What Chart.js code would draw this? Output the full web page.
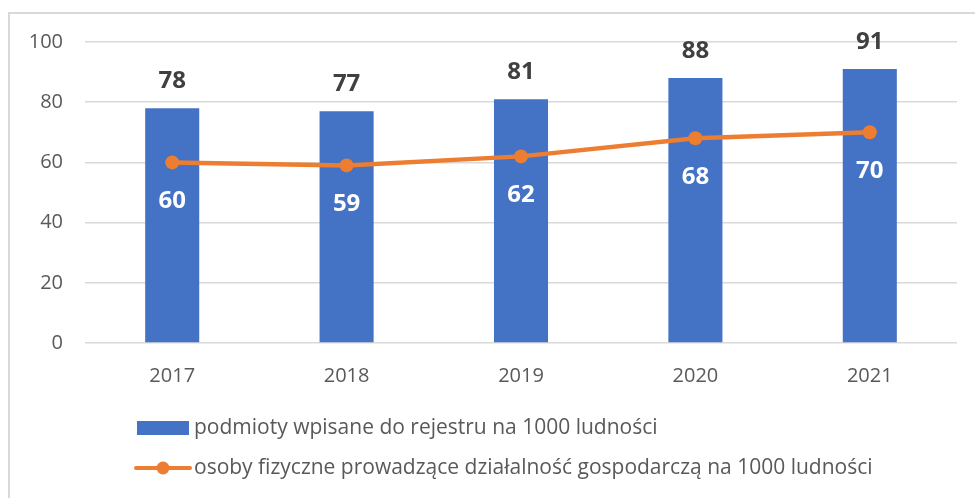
<!DOCTYPE html>
<html><head><meta charset="utf-8">
<script src="https://cdn.jsdelivr.net/npm/chart.js@4/dist/chart.umd.min.js"></script>
<style>html,body{margin:0;padding:0;background:#fff}#wrap{width:975px;height:498px;position:relative}</style>
</head><body><div id="wrap"><canvas id="c" width="975" height="498"></canvas></div>
<script>
const categories = ['2017','2018','2019','2020','2021'];
const barLabel = 'podmioty wpisane do rejestru na 1000 ludności';
const barValues = [78, 77, 81, 88, 91];
const lineLabel = 'osoby fizyczne prowadzące działalność gospodarczą na 1000 ludności';
const lineValues = [60, 59, 62, 68, 70];
const yTicks = [0, 20, 40, 60, 80, 100];

const FONT = "'Open Sans', sans-serif";
const BLUE = '#4472C4', ORANGE = '#ED7D31';

const framePlugin = {
  id: 'frame',
  beforeDraw(chart) {
    const ctx = chart.ctx;
    ctx.save();
    ctx.strokeStyle = '#d9d9d9';
    ctx.lineWidth = 2;
    ctx.strokeRect(9, 13, 1000, 600);
    ctx.restore();
  }
};

const labelsPlugin = {
  id: 'valueLabels',
  afterDatasetsDraw(chart) {
    const ctx = chart.ctx;
    ctx.save();
    ctx.textAlign = 'center';
    ctx.textBaseline = 'middle';
    ctx.font = "bold 24px " + FONT;
    const barMeta = chart.getDatasetMeta(1);
    barMeta.data.forEach((el, i) => {
      ctx.fillStyle = '#404040';
      ctx.fillText(String(chart.data.datasets[1].data[i]), el.x, el.y - 27);
    });
    const lineMeta = chart.getDatasetMeta(0);
    lineMeta.data.forEach((el, i) => {
      ctx.fillStyle = '#ffffff';
      ctx.fillText(String(chart.data.datasets[0].data[i]), el.x, el.y + 39);
    });
    ctx.restore();
  }
};

const legendPlugin = {
  id: 'customLegend',
  afterDraw(chart) {
    const ctx = chart.ctx;
    ctx.save();
    ctx.font = "21px " + FONT;
    ctx.textBaseline = 'middle';
    ctx.textAlign = 'left';
    const x0 = 137, rows = [428, 468];
    const bd = chart.data.datasets[1];
    ctx.fillStyle = bd.backgroundColor;
    ctx.fillRect(x0, rows[0] - 7, 52, 14);
    ctx.fillStyle = '#595959';
    ctx.fillText(bd.label, x0 + 57, rows[0]);
    const ld = chart.data.datasets[0];
    ctx.strokeStyle = ld.borderColor;
    ctx.lineWidth = 4;
    ctx.lineCap = 'round';
    ctx.beginPath();
    ctx.moveTo(x0 - 1, rows[1]);
    ctx.lineTo(x0 + 53, rows[1]);
    ctx.stroke();
    ctx.fillStyle = ld.borderColor;
    ctx.beginPath();
    ctx.arc(x0 + 26, rows[1], 6.5, 0, Math.PI * 2);
    ctx.fill();
    ctx.fillStyle = '#595959';
    ctx.fillText(ld.label, x0 + 57, rows[1]);
    ctx.restore();
  }
};

new Chart(document.getElementById('c'), {
  data: {
    labels: categories,
    datasets: [
      {
        type: 'line', label: lineLabel, data: lineValues,
        borderColor: ORANGE, backgroundColor: ORANGE,
        borderWidth: 4.5, pointRadius: 7, pointHoverRadius: 7,
        pointBackgroundColor: ORANGE, pointBorderWidth: 0,
        tension: 0, order: 0
      },
      {
        type: 'bar', label: barLabel, data: barValues,
        backgroundColor: BLUE, borderWidth: 0,
        barPercentage: 0.62, categoryPercentage: 0.5, order: 1
      }
    ]
  },
  options: {
    responsive: false,
    animation: false,
    devicePixelRatio: 1,
    layout: { padding: { left: 0, right: 18, top: 42, bottom: 105 } },
    plugins: { legend: { display: false }, tooltip: { enabled: false } },
    scales: {
      x: {
        grid: { display: false, drawTicks: false },
        border: { display: false },
        ticks: { color: '#595959', font: { family: FONT, size: 20 }, padding: 21 },
        afterFit(s) { s.height = 50; }
      },
      y: {
        min: 0, max: 100,
        afterBuildTicks(s) { s.ticks = yTicks.map(v => ({ value: v })); },
        grid: { color: '#d9d9d9', lineWidth: 1.5, drawTicks: false },
        border: { display: false },
        ticks: { color: '#595959', font: { family: FONT, size: 20 }, padding: 22 },
        afterFit(s) { s.width = 85; }
      }
    }
  },
  plugins: [framePlugin, labelsPlugin, legendPlugin]
});
</script></body></html>
